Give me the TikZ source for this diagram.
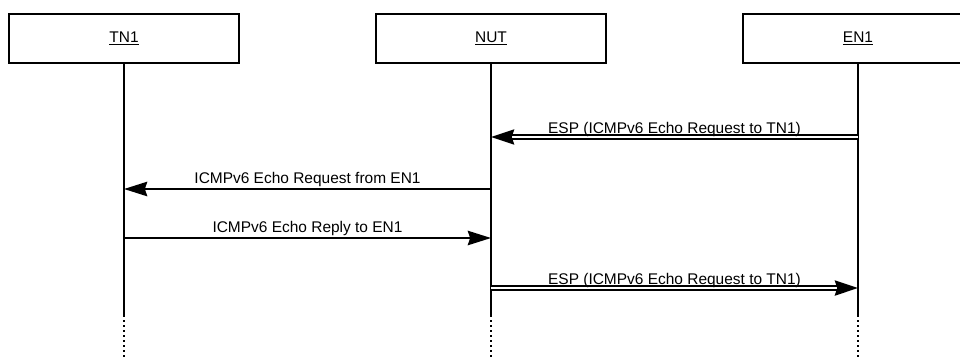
\documentclass[tikz,border=0pt]{standalone}
\usepackage{fontspec}
\setmainfont{Liberation Sans}
\usetikzlibrary{arrows.meta,calc}
\tikzset{
    actor/.style={rectangle, draw, line width=1.6pt, minimum width=5.75cm,
                  minimum height=1.225cm, font=\fontsize{11}{13}\selectfont},
    life/.style={line width=2.1pt},
    lifedot/.style={line width=2.1pt, dash pattern=on 0.05cm off 0.075cm},
    msg/.style={-{Stealth[length=0.58cm, width=0.36cm, inset=0.06cm]}, line width=1.6pt},
    esp/.style={-{Stealth[length=0.58cm, width=0.38cm, inset=0.06cm]}, line width=1.4pt,
                double, double distance=1.2pt},
    lbl/.style={anchor=base, yshift=0.15cm, inner sep=0pt, font=\fontsize{11}{13}\selectfont},
    esplbl/.style={lbl, yshift=-0.06cm},
}
\begin{document}
\begin{tikzpicture}[x=0.025cm, y=-0.025cm]
    \useasboundingbox (0,0) rectangle (960,358);
    \node[actor] (tn1) at (124,38.5) {\underline{TN1}};
    \node[actor] (nut) at (491,38.5) {\underline{NUT}};
    \node[actor] (en1) at (858,38.5) {\underline{EN1}};
    % lifelines, solid then dotted
    \foreach \n in {tn1,nut,en1} {
        \coordinate (\n-end) at (\n |- 0,315);
        \draw[life] (\n.south) -- (\n-end);
        \draw[lifedot] (\n-end) -- ++(0,45);
        \foreach \y/\k in {137/1,189/2,238/3,288/4}
            \coordinate (\n-\k) at (\n |- 0,\y);
    }
    % messages
    \draw[esp] (en1-1) -- node[esplbl] {ESP (ICMPv6 Echo Request to TN1)} (nut-1);
    \draw[msg] (nut-2) -- node[lbl] {ICMPv6 Echo Request from EN1} (tn1-2);
    \draw[msg] (tn1-3) -- node[lbl] {ICMPv6 Echo Reply to EN1} (nut-3);
    \draw[esp] (nut-4) -- node[esplbl] {ESP (ICMPv6 Echo Request to TN1)} (en1-4);
\end{tikzpicture}
\end{document}
